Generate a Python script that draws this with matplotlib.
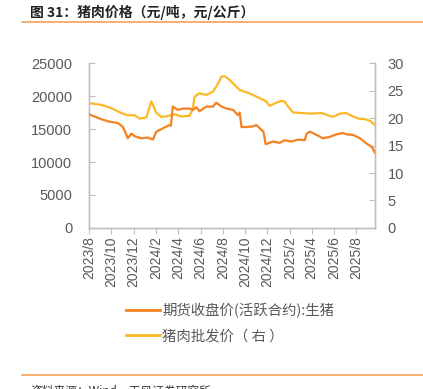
"""
猪肉价格：生猪期货收盘价与猪肉批发价
"""

import matplotlib

matplotlib.use("Agg")
import matplotlib.pyplot as plt
from matplotlib.lines import Line2D
import pandas as pd

plt.rcParams["font.family"] = ["Liberation Sans", "Noto Sans CJK SC", "DejaVu Sans"]

# 生猪期货收盘价(活跃合约)，元/吨（左轴）
fut_dates = [
    "2023-08-01", "2023-08-16", "2023-09-03", "2023-09-26", "2023-10-19",
    "2023-11-02", "2023-11-06", "2023-11-15", "2023-11-25", "2023-12-04",
    "2023-12-22", "2024-01-09", "2024-01-23", "2024-02-01", "2024-02-19",
    "2024-03-08", "2024-03-12", "2024-03-17", "2024-03-31", "2024-04-14",
    "2024-05-02", "2024-05-11", "2024-05-21", "2024-05-29", "2024-06-17",
    "2024-07-05", "2024-07-14", "2024-07-28", "2024-08-11", "2024-08-29",
    "2024-09-11", "2024-09-16", "2024-09-21", "2024-10-04", "2024-10-22",
    "2024-11-01", "2024-11-10", "2024-11-20", "2024-11-26", "2024-12-16",
    "2025-01-03", "2025-01-17", "2025-02-04", "2025-02-23", "2025-03-13",
    "2025-03-18", "2025-03-27", "2025-04-14", "2025-05-02", "2025-05-20",
    "2025-06-08", "2025-06-26", "2025-07-05", "2025-07-23", "2025-08-11",
    "2025-08-29", "2025-09-12", "2025-09-21",
]
fut_price = [
    17200, 16900, 16500, 16100, 15900,
    15300, 14800, 13600, 14300, 13900,
    13600, 13700, 13400, 14600, 15100,
    15600, 15500, 18400, 17900, 18100,
    18100, 17900, 18300, 17700, 18400,
    18400, 19000, 18400, 18100, 17900,
    17100, 17500, 15300, 15300, 15400,
    15600, 15100, 14600, 12700, 13100,
    12900, 13300, 13100, 13400, 13300,
    14300, 14600, 14100, 13600, 13800,
    14200, 14400, 14200, 14100, 13600,
    12800, 12300, 11400,
]

# 猪肉批发价，元/公斤（右轴）
pork_dates = [
    "2023-08-01", "2023-09-03", "2023-10-01", "2023-10-28", "2023-11-15",
    "2023-12-04", "2023-12-17", "2024-01-05", "2024-01-14", "2024-01-18",
    "2024-01-23", "2024-02-01", "2024-02-15", "2024-02-28", "2024-03-22",
    "2024-04-09", "2024-05-02", "2024-05-10", "2024-05-16", "2024-05-29",
    "2024-06-17", "2024-07-05", "2024-07-14", "2024-07-28", "2024-08-06",
    "2024-08-20", "2024-09-02", "2024-09-16", "2024-10-04", "2024-10-22",
    "2024-11-10", "2024-11-28", "2024-12-07", "2024-12-25", "2025-01-08",
    "2025-01-17", "2025-01-26", "2025-02-09", "2025-03-04", "2025-03-31",
    "2025-04-28", "2025-05-16", "2025-05-29", "2025-06-17", "2025-07-05",
    "2025-07-19", "2025-08-06", "2025-08-24", "2025-09-07", "2025-09-21",
]
pork_price = [
    22.7, 22.4, 21.8, 20.9, 20.5,
    20.5, 19.9, 20.1, 22.1, 23.0,
    22.4, 20.9, 20.2, 20.3, 20.7,
    20.3, 20.4, 21.5, 23.9, 24.5,
    24.2, 24.8, 25.7, 27.5, 27.6,
    26.9, 26.0, 25.1, 24.7, 24.2,
    23.6, 23.0, 22.2, 22.8, 23.1,
    23.0, 22.1, 21.0, 20.9, 20.8,
    20.9, 20.5, 20.2, 20.8, 20.9,
    20.4, 19.9, 19.8, 19.5, 18.7,
]

tick_dates = [
    "2023-08-01", "2023-10-01", "2023-12-01", "2024-02-01", "2024-04-01",
    "2024-06-01", "2024-08-01", "2024-10-01", "2024-12-01", "2025-02-01",
    "2025-04-01", "2025-06-01", "2025-08-01",
]
tick_labels = [
    "2023/8", "2023/10", "2023/12", "2024/2", "2024/4", "2024/6", "2024/8",
    "2024/10", "2024/12", "2025/2", "2025/4", "2025/6", "2025/8",
]

c_fut = "#F5821F"
c_pork = "#FDB827"
c_axis = "#BFBFBF"
c_text = "#595959"
cjk = ["Noto Sans CJK SC", "DejaVu Sans"]

fig = plt.figure(figsize=(4.23, 3.89), dpi=100)
ax = fig.add_axes([0.2104, 0.4139, 0.6761, 0.4241])
ax2 = ax.twinx()

ax.plot(pd.to_datetime(fut_dates), fut_price, color=c_fut, lw=1.6, zorder=3)
ax2.plot(pd.to_datetime(pork_dates), pork_price, color=c_pork, lw=1.6)
ax.set_zorder(ax2.get_zorder() + 1)
ax.patch.set_visible(False)

ax.set_xlim(pd.Timestamp("2023-08-01"), pd.Timestamp("2025-09-21"))
ax.set_ylim(0, 25000)
ax2.set_ylim(0, 30)
ax.set_yticks(range(0, 25001, 5000))
ax2.set_yticks(range(0, 31, 5))
ax.set_xticks(pd.to_datetime(tick_dates))
ax.set_xticklabels(tick_labels, rotation=90)

for a in (ax, ax2):
    a.spines["top"].set_visible(False)
    for s in ("left", "right", "bottom"):
        a.spines[s].set_color(c_axis)
        a.spines[s].set_linewidth(1.0)

ax.tick_params(axis="y", direction="in", length=4, color=c_axis,
               labelcolor=c_text, labelsize=10.5, pad=12)
ax2.tick_params(axis="y", direction="in", length=4, color=c_axis,
                labelcolor=c_text, labelsize=10.5, pad=9)
ax.tick_params(axis="x", direction="out", length=4, color=c_axis,
               labelcolor=c_text, labelsize=10, pad=2)

handles = [
    Line2D([], [], color=c_fut, lw=2),
    Line2D([], [], color=c_pork, lw=2),
]
labels = ["期货收盘价(活跃合约):生猪", "猪肉批发价（ 右 ）"]
fig.legend(handles, labels, loc="upper left", bbox_to_anchor=(0.268, 0.254),
           frameon=False, handlelength=2.3, handletextpad=0.2,
           labelspacing=0.75, labelcolor=c_text,
           prop={"family": cjk, "size": 10.4})

# title and rules
fig.text(0.072, 0.969, "图 31：猪肉价格（元/吨，元/公斤）", fontsize=10,
         fontweight="bold", color="#222222", va="center", family=cjk)
fig.add_artist(Line2D([0.052, 1.0], [0.944, 0.944], color="#F4A15C", lw=1.2))
fig.add_artist(Line2D([0.052, 1.0], [0.036, 0.036], color="#F4A15C", lw=1.2))
fig.text(0.072, 0.012, "资料来源：Wind，天风证券研究所", fontsize=8.5,
         color="#333333", va="top", family=cjk)

plt.savefig("out.png", dpi=100)
plt.close()
